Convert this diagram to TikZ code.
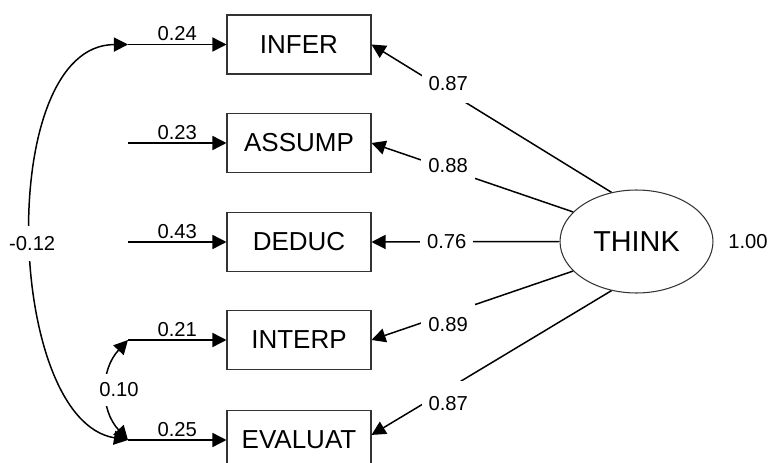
\documentclass[tikz,border=0pt]{standalone}
\usepackage{fontspec}
\setmainfont{Liberation Sans}
\usetikzlibrary{arrows.meta,shapes.geometric}

\begin{document}
\begin{tikzpicture}[x=0.02cm, y=-0.02cm, >={Triangle[length=8pt,width=8pt]},
  obs/.style={draw=black!80, line width=0.6pt, minimum width=2.88cm, minimum height=1.18cm, inner sep=0pt, font=\fontsize{14.8}{16}\selectfont},
  lat/.style={ellipse, draw=black!80, line width=0.6pt, minimum width=3.06cm, minimum height=2.06cm, inner sep=0pt, font=\fontsize{16.4}{18}\selectfont},
  num/.style={font=\fontsize{11.5}{13}\selectfont, inner sep=1.5pt},
  gap/.style={num, fill=white, inner sep=4pt},
  link/.style={->, line width=0.85pt}]
  \useasboundingbox (0,0) rectangle (769,463);
  % observed tests and the latent factor
  \node[obs] (INFER) at (299,44.5) {INFER};
  \node[obs] (ASSUMP) at (299,143) {ASSUMP};
  \node[obs] (DEDUC) at (299,242) {DEDUC};
  \node[obs] (INTERP) at (299,340) {INTERP};
  \node[obs] (EVALUAT) at (299,440) {EVALUAT};
  \node[lat] (THINK) at (636.5,241.5) {THINK};
  \node[num] (varT) at (748,242) {1.00};
  % error terms
  \coordinate (e1) at (128,44.5);
  \coordinate (e2) at (128,143);
  \coordinate (e3) at (128,242);
  \coordinate (e4) at (128,340);
  \coordinate (e5) at (128,440);
  \draw[link] (e1) -- node[num, above] {0.24} (INFER.west);
  \draw[link] (e2) -- node[num, above] {0.23} (ASSUMP.west);
  \draw[link] (e3) -- node[num, above] {0.43} (DEDUC.west);
  \draw[link] (e4) -- node[num, above] {0.21} (INTERP.west);
  \draw[link] (e5) -- node[num, above] {0.25} (EVALUAT.west);
  % loadings
  \draw[link] (THINK.117) -- node[gap, inner ysep=7pt, pos=.68, yshift=0.16cm] {0.87} (INFER.east);
  \draw[link] (THINK.155) -- node[gap, inner ysep=5pt, pos=.62, yshift=0.08cm] {0.88} (ASSUMP.east);
  \draw[link] (THINK.west) -- node[gap, pos=.6] {0.76} (DEDUC.east);
  \draw[link] (THINK.205) -- node[gap, inner ysep=8pt, pos=.62, yshift=-0.22cm] {0.89} (INTERP.east);
  \draw[link] (THINK.243) -- node[gap, inner ysep=9pt, pos=.68, yshift=-0.3cm] {0.87} (EVALUAT.4);
  % error covariances
  \draw[link, <->] (e1) .. controls (-5,45) and (5,420) .. node[gap, inner ysep=6pt, pos=.515] {-0.12} (e5);
  \draw[link, <->] (e4) .. controls (100,370) and (100,410) .. node[gap, inner ysep=5pt, pos=.5, xshift=0.24cm] {0.10} (e5);
\end{tikzpicture}
\end{document}
